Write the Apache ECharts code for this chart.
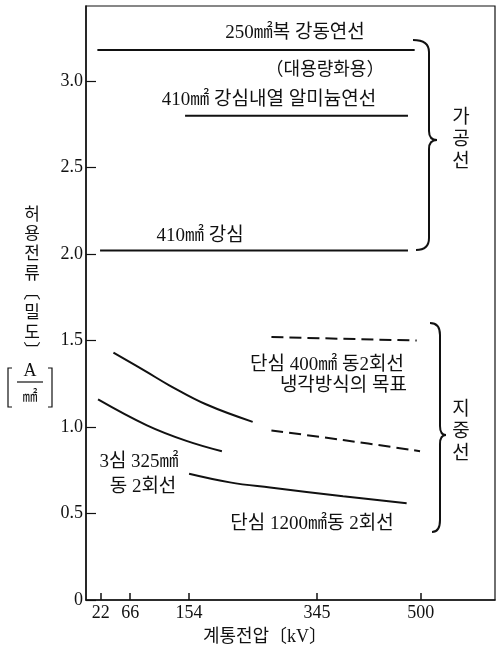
<!DOCTYPE html>
<html><head><meta charset="utf-8">
<script src="https://cdn.jsdelivr.net/npm/echarts@6/dist/echarts.min.js"></script>
<style>html,body{margin:0;padding:0;background:#fff}#c{width:496px;height:654px}</style>
</head><body><div id="c"></div>
<script>
// ---- data (kV, A/mm²) ----
const xTicks = [22, 66, 154, 345, 500];
const yTicks = [0, 0.5, 1.0, 1.5, 2.0, 2.5, 3.0];

const cu250Bundle_kV = [17, 491];
const cu250Bundle_val = [3.18, 3.18];
const tacsr410_kV = [148, 481];
const tacsr410_val = [2.80, 2.80];
const acsr410_kV = [21, 481];
const acsr410_val = [2.02, 2.02];

const single400_kV = [41, 90, 125, 180, 249];
const single400_val = [1.43, 1.32, 1.24, 1.13, 1.03];
const threeCore325_kV = [18, 91, 150, 203];
const threeCore325_val = [1.16, 1.01, 0.92, 0.86];
const single1200_kV = [154, 215, 275, 384, 479];
const single1200_val = [0.73, 0.68, 0.65, 0.60, 0.56];
const cooledUpper_kV = [277, 494];
const cooledUpper_val = [1.52, 1.50];
const cooledLower_kV = [277, 384, 499];
const cooledLower_val = [0.98, 0.925, 0.86];

const FONT = "'Liberation Serif', 'Noto Sans CJK KR', serif";
const INK = '#111';

function pairs(xs, ys) { return xs.map((x, i) => [x, ys[i]]); }
function line(xs, ys, opts) {
  opts = opts || {};
  return {
    type: 'line', data: pairs(xs, ys), showSymbol: false, symbol: 'none',
    smooth: opts.smooth || false, silent: true,
    lineStyle: { color: INK, width: 2, type: opts.dash ? [12, 6] : 'solid' }
  };
}

function txt(x, y, text, size, extra) {
  return {
    type: 'text', x: x, y: y, silent: true,
    style: Object.assign({ text: text, fontSize: size || 19, fontFamily: FONT, fill: INK,
      align: 'center', verticalAlign: 'middle' }, (extra || {}))
  };
}
function seg(x1, y1, x2, y2) {
  return { type: 'line', silent: true, shape: { x1, y1, x2, y2 }, style: { stroke: INK, lineWidth: 2 } };
}
function qc(x1, y1, cx, cy, x2, y2) {
  return { type: 'bezierCurve', silent: true, shape: { x1, y1, x2, y2, cpx1: cx, cpy1: cy }, style: { stroke: INK, lineWidth: 2, fill: null } };
}
function brace(xl, yTop, xv, yMid, xp, yBot, xlb) {
  return [
    qc(xl, yTop, xv, yTop, xv, yTop + 12),
    seg(xv, yTop + 12, xv, yMid - 9),
    qc(xv, yMid - 9, xv, yMid, xp, yMid),
    qc(xp, yMid, xv, yMid, xv, yMid + 9),
    seg(xv, yMid + 9, xv, yBot - 12),
    qc(xv, yBot - 12, xv, yBot, xlb, yBot)
  ];
}

const chart = echarts.init(document.getElementById('c'), null, { renderer: 'canvas' });
chart.setOption({
  animation: false,
  backgroundColor: '#fff',
  grid: { left: 86, right: 1, top: 6, bottom: 54, show: true, borderColor: INK, borderWidth: 1.2, backgroundColor: 'transparent' },
  xAxis: {
    type: 'value', min: 0, max: 611,
    axisLine: { show: true, onZero: false, lineStyle: { color: INK, width: 1.5 } },
    axisTick: { show: true, inside: true, length: 7, customValues: xTicks, lineStyle: { color: INK, width: 1.5 } },
    axisLabel: { customValues: xTicks, color: INK, fontSize: 18, fontFamily: FONT, margin: 4 },
    splitLine: { show: false }
  },
  yAxis: {
    type: 'value', min: 0, max: 3.434,
    axisLine: { show: true, onZero: false, lineStyle: { color: INK, width: 1.5 } },
    axisTick: { show: true, inside: true, length: 10, customValues: yTicks, lineStyle: { color: INK, width: 1.2 } },
    axisLabel: { customValues: yTicks, color: INK, fontSize: 18, fontFamily: FONT, margin: 3,
      formatter: v => (v === 0 ? '0' : v.toFixed(1)) },
    splitLine: { show: false }
  },
  series: [
    line(cu250Bundle_kV, cu250Bundle_val),
    line(tacsr410_kV, tacsr410_val),
    line(acsr410_kV, acsr410_val),
    line(single400_kV, single400_val, { smooth: 0.4 }),
    line(threeCore325_kV, threeCore325_val, { smooth: 0.4 }),
    line(single1200_kV, single1200_val, { smooth: 0.4 }),
    line(cooledUpper_kV, cooledUpper_val, { dash: true }),
    line(cooledLower_kV, cooledLower_val, { dash: true, smooth: 0.4 })
  ],
  graphic: [
    txt(295, 33, '250㎟복 강동연선'),
    txt(325, 70, '（대용량화용）', 18),
    txt(269, 100, '410㎟ 강심내열 알미늄연선'),
    txt(200, 236, '410㎟ 강심'),
    txt(327, 365, '단심 400㎟ 동2회선'),
    txt(407, 386, '냉각방식의 목표', 19, { align: 'right' }),
    txt(139, 462, '3심 325㎟'),
    txt(143, 487, '동 2회선'),
    txt(312, 524, '단심 1200㎟동 2회선'),
    txt(461, 140, '가\n공\n선', 19, { lineHeight: 22 }),
    txt(461, 432, '지\n중\n선', 19, { lineHeight: 22 }),
    txt(32, 284, '허\n용\n전\n류\n︹\n밀\n도\n︺', 17, { lineHeight: 19.7 }),
    txt(30, 371, 'A', 18),
    { type: 'line', silent: true, shape: { x1: 17, y1: 382, x2: 43, y2: 382 }, style: { stroke: INK, lineWidth: 1.2 } },
    txt(30, 397, '㎟', 15),
    { type: 'polyline', silent: true, shape: { points: [[12, 368], [8, 368], [8, 407], [12, 407]] }, style: { stroke: INK, lineWidth: 1.2, fill: null } },
    { type: 'polyline', silent: true, shape: { points: [[48, 368], [52, 368], [52, 407], [48, 407]] }, style: { stroke: INK, lineWidth: 1.2, fill: null } },
    txt(265, 637, '계통전압〔kV〕', 18)
  ].concat(brace(413, 40, 429, 140, 437, 250, 416))
   .concat(brace(430, 323, 440, 435, 446, 532, 432))
});
</script>
</body></html>
